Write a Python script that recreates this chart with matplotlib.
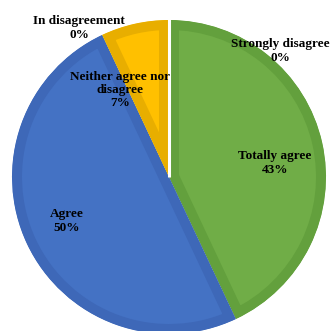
import matplotlib
matplotlib.use("Agg")
import matplotlib.pyplot as plt
import numpy as np

categories = ["Totally agree", "Agree", "Neither agree nor\ndisagree", "In disagreement", "Strongly disagree"]
values = [43, 50, 7, 0, 0]
fill_colors = ["#70AD47", "#4472C4", "#FFC000", "#A5A5A5", "#5B9BD5"]
edge_colors = ["#63A03D", "#3E68B8", "#E8AE00", "#999999", "#5090C8"]

# label centers in pixel coordinates (x, y from top)
label_px = [(275, 163), (67, 221), (120, 90), (79, 28), (280, 51)]

W, H = 333, 331
CX, CY, R = 169, 177, 157

fig = plt.figure(figsize=(W / 100, H / 100), dpi=100)
ax = fig.add_axes([0, 0, 1, 1])

nz = [i for i, v in enumerate(values) if v > 0]
wedges, _ = ax.pie([values[i] for i in nz], colors=[fill_colors[i] for i in nz],
                   startangle=90, counterclock=False, radius=1.0)
border_px = 10
for w, i in zip(wedges, nz):
    w.set_edgecolor(edge_colors[i])
    w.set_linewidth(2 * border_px * 0.72)
    w.set_joinstyle("miter")
    w.set_clip_on(True)
    w.set_clip_path(w)

# white separator at the 0% categories boundary (top)
ax.plot([0, 0], [0, 1.02], color="white", lw=2.2, solid_capstyle="butt", zorder=5)

for cat, val, (px, py) in zip(categories, values, label_px):
    ax.text((px - CX) / R, (CY - py) / R, f"{cat}\n{val}%",
            ha="center", va="center", multialignment="center",
            family="Liberation Serif", fontweight="bold", fontsize=9.5,
            color="black", linespacing=1.15, zorder=6)

ax.set_aspect("auto")
ax.set_xlim(-CX / R, (W - CX) / R)
ax.set_ylim(-(H - CY) / R, CY / R)
ax.axis("off")
fig.savefig("out.png", dpi=100)
